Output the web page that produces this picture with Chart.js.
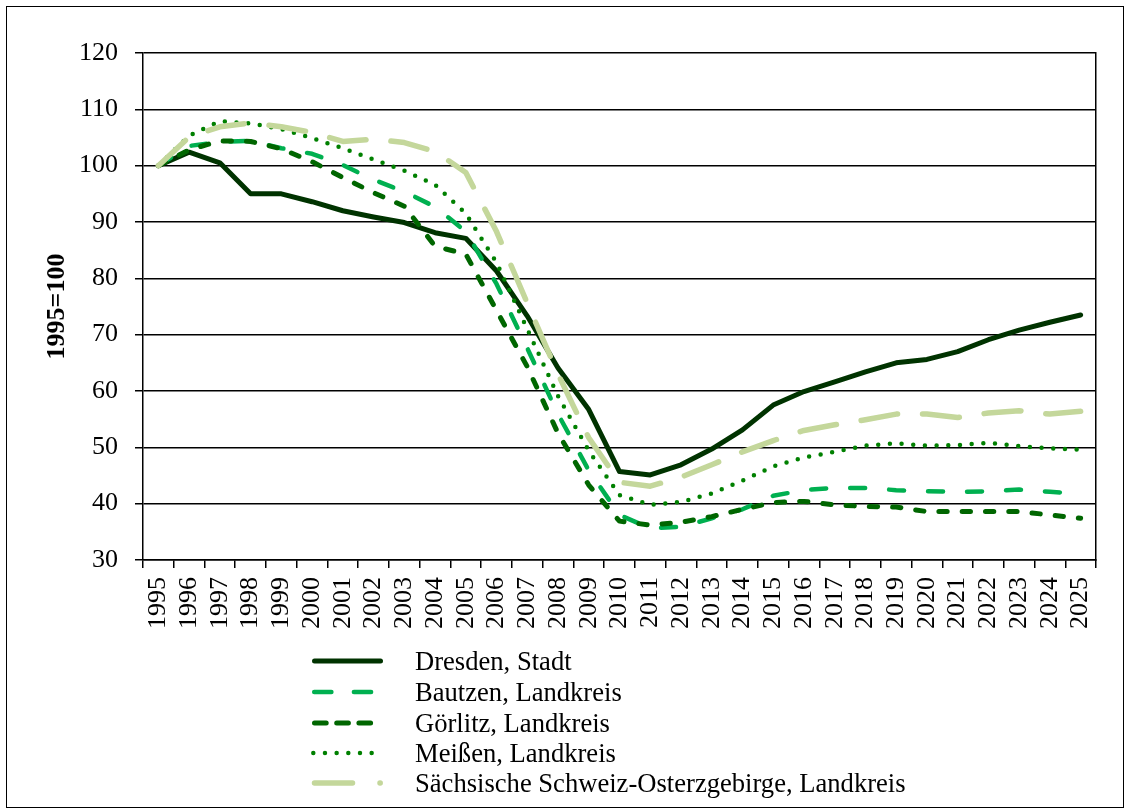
<!DOCTYPE html>
<html><head><meta charset="utf-8">
<script src="https://cdn.jsdelivr.net/npm/chart.js@4.4.0/dist/chart.umd.min.js"></script>
<style>
html,body{margin:0;padding:0;background:#fff;}
#wrap{position:relative;width:1130px;height:810px;overflow:hidden;background:#fff;}
#frame{position:absolute;left:6px;top:6px;width:1118px;height:802px;border:1.5px solid #000;box-sizing:border-box;pointer-events:none;}
canvas{position:absolute;left:0;top:0;}
.lg{position:absolute;left:0;height:30px;width:1130px;font-family:'Liberation Serif','Times New Roman',serif;font-size:26.6px;line-height:30px;color:#000;}
.lg svg{position:absolute;left:300px;top:0;}
.lg span{position:absolute;left:415px;top:0;white-space:nowrap;}
</style></head>
<body><div id="wrap"><canvas id="c" width="1130" height="810"></canvas><div id="legend"></div><div id="frame"></div></div>
<script>
const years = ['1995','1996','1997','1998','1999','2000','2001','2002','2003','2004','2005','2006','2007','2008','2009','2010','2011','2012','2013','2014','2015','2016','2017','2018','2019','2020','2021','2022','2023','2024','2025'];
const seriesNames = ['Dresden, Stadt','Bautzen, Landkreis','Görlitz, Landkreis','Meißen, Landkreis','Sächsische Schweiz-Osterzgebirge, Landkreis'];
const dresden = [100, 102.4, 100.5, 95.0, 95.0, 93.6, 92.0, 90.9, 89.9, 88.1, 87.1, 81.3, 73.3, 64.1, 56.7, 45.7, 45.1, 46.9, 49.7, 53.1, 57.5, 59.9, 61.6, 63.4, 65.0, 65.6, 67.0, 69.1, 70.8, 72.2, 73.5];
const bautzen = [100, 103.5, 104.2, 104.4, 103.1, 102.1, 100.1, 97.5, 95.4, 92.7, 88.3, 79.0, 67.6, 55.9, 45.9, 38.0, 35.6, 35.9, 37.4, 39.0, 41.4, 42.4, 42.8, 42.8, 42.4, 42.2, 42.1, 42.2, 42.5, 42.1, 41.8];
const goerlitz = [100, 102.8, 104.4, 104.3, 103.0, 100.7, 97.9, 95.2, 92.8, 85.7, 84.3, 74.3, 64.3, 52.5, 43.3, 36.9, 36.2, 36.7, 37.7, 39.0, 40.2, 40.4, 39.8, 39.5, 39.4, 38.6, 38.6, 38.6, 38.6, 38.0, 37.4];
const meissen = [100, 105.3, 107.9, 107.5, 106.5, 104.9, 103.1, 101.1, 99.1, 96.6, 91.5, 82.8, 71.0, 59.1, 49.4, 41.5, 39.8, 40.3, 41.8, 44.1, 46.6, 48.2, 49.2, 50.3, 50.7, 50.3, 50.4, 50.8, 50.2, 49.8, 49.6];
const saechsSchweiz = [100, 105.1, 106.9, 107.6, 106.9, 105.9, 104.3, 104.7, 104.1, 102.5, 98.8, 88.3, 75.6, 63.0, 51.7, 43.8, 43.1, 44.7, 46.9, 49.2, 51.2, 53.0, 54.0, 54.9, 55.9, 55.9, 55.3, 56.1, 56.5, 55.9, 56.4];
const yTicks = [30, 40, 50, 60, 70, 80, 90, 100, 110, 120];
const yTitle = '1995=100';

const styles = [
  {color:'#003300', width:5,   dash:[],       order:5, lg:{x1:14.5, x2:80.5, dash:''}},
  {color:'#00b050', width:4.5, dash:[15,24],  order:4, lg:{x1:14.2, x2:81,   dash:'17.2 22.5'}},
  {color:'#006600', width:5,   dash:[8.3,15], order:3, lg:{x1:14.5, x2:81,   dash:'11.7 10.5'}},
  {color:'#008000', width:4.5, dash:[0,11.7], order:2, lg:{x1:13.3, x2:72.5, dash:'0 11.67'}},
  {color:'#c4d79b', width:5.5, dash:[37,25],  order:1, lg:{x1:14.5, x2:80.2, dash:'38 27.5'}}
];
const values = [dresden, bautzen, goerlitz, meissen, saechsSchweiz];
const serif = "'Liberation Serif','Times New Roman',serif";

const datasets = values.map((v,i)=>({
  label: seriesNames[i],
  data: v,
  borderColor: styles[i].color,
  backgroundColor: styles[i].color,
  borderWidth: styles[i].width,
  borderDash: styles[i].dash,
  borderCapStyle: 'round',
  borderJoinStyle: 'round',
  pointRadius: 0,
  tension: 0,
  fill: false,
  order: styles[i].order
}));

new Chart(document.getElementById('c'), {
  type: 'line',
  data: {labels: years, datasets},
  options: {
    responsive: false,
    animation: false,
    devicePixelRatio: 1,
    layout: {padding: {left: 0, right: 34, top: 53, bottom: 170}},
    plugins: {legend: {display: false}, tooltip: {enabled: false}},
    scales: {
      x: {
        type: 'category',
        offset: true,
        grid: {display: true, drawOnChartArea: false, drawTicks: true, tickLength: 8, offset: true, color: '#000', lineWidth: 1.5},
        border: {display: true, color: '#000', width: 1.5},
        ticks: {autoSkip: false, maxRotation: 90, minRotation: 90, padding: 9, color: '#000', font: {family: serif, size: 26}},
        afterFit: s => { s.height = 80; }
      },
      y: {
        type: 'linear',
        min: 30, max: 120,
        afterBuildTicks: s => { s.ticks = yTicks.map(v => ({value: v})); },
        grid: {color: '#000', lineWidth: 1.5, tickLength: 8, drawTicks: true},
        border: {display: true, color: '#000', width: 1.5},
        ticks: {padding: 17, color: '#000', font: {family: serif, size: 26}},
        title: {display: true, text: yTitle, color: '#000', font: {family: serif, size: 26, weight: 'bold'}, padding: {top: 42, bottom: 0}},
        afterFit: s => { s.width = 143; }
      },
      y2: {
        type: 'linear',
        position: 'right',
        display: true,
        grid: {display: false},
        ticks: {display: false},
        border: {display: true, color: '#000', width: 1.5},
        afterFit: s => { s.width = 0; }
      }
    }
  }
});

// HTML legend (vertical list below the chart)
const legend = document.getElementById('legend');
const rowCenters = [661, 692, 722.5, 753, 783];
seriesNames.forEach((name, i) => {
  const st = styles[i];
  const row = document.createElement('div');
  row.className = 'lg';
  row.style.top = (rowCenters[i] - 15) + 'px';
  const svgNS = 'http://www.w3.org/2000/svg';
  const svg = document.createElementNS(svgNS, 'svg');
  svg.setAttribute('width', '100'); svg.setAttribute('height', '30');
  const ln = document.createElementNS(svgNS, 'line');
  ln.setAttribute('x1', st.lg.x1); ln.setAttribute('x2', st.lg.x2);
  ln.setAttribute('y1', 15); ln.setAttribute('y2', 15);
  ln.setAttribute('stroke', st.color);
  ln.setAttribute('stroke-width', st.width);
  ln.setAttribute('stroke-linecap', 'round');
  if (st.lg.dash) ln.setAttribute('stroke-dasharray', st.lg.dash);
  svg.appendChild(ln);
  const sp = document.createElement('span');
  sp.textContent = name;
  row.appendChild(svg); row.appendChild(sp);
  legend.appendChild(row);
});
</script>
</body></html>
